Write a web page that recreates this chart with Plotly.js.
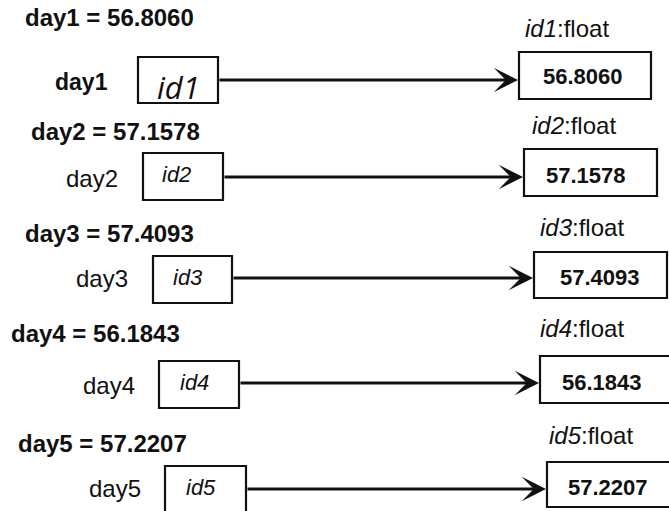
<!DOCTYPE html>
<html>
<head>
<meta charset="utf-8">
<script src="https://cdn.plot.ly/plotly-3.0.1.min.js"></script>
<style>html,body{margin:0;padding:0;background:#fff;}#chart{width:669px;height:511px;}</style>
</head>
<body>
<div id="chart"></div>
<script>
// ---- data ----
var days = ['day1', 'day2', 'day3', 'day4', 'day5'];
var values = [56.8060, 57.1578, 57.4093, 56.1843, 57.2207];
var ids = ['id1', 'id2', 'id3', 'id4', 'id5'];
var typeName = 'float';

// ---- layout geometry (pixel space of the diagram) ----
var titleX   = [23, 29, 23, 9, 16];
var titleY   = [17, 131, 233, 333, 443];
var labelX   = [81, 92, 102, 109, 115];
var labelY   = [82, 178, 278, 385, 488];
var lbox     = [[138,218,57,103],[143,223,153,200],[153,232,256,303],[159,239,361,408],[165,246,466,522]];
var idTextX  = [178, 176, 188, 194, 201];
var idTextY  = [87, 174, 277, 382, 487];
var arrowY   = [80, 177, 278, 383, 489];
var rbox     = [[519,651,52,99],[524,657,149,196],[534,667,252,298],[540,672,356,403],[547,678,462,507]];
var valX     = [583, 586, 600, 602, 608];
var valY     = [76, 175, 277, 382, 487];
var floatX   = [523, 530, 538, 538, 547];
var floatY   = [28, 125, 227, 328, 435];

var FONT = 'Liberation Sans, Arial, sans-serif';
var INK = '#111111';
var shapes = [];
var ann = [];

for (var i = 0; i < days.length; i++) {
  var vtxt = values[i].toFixed(4);
  // row title
  ann.push({x: titleX[i], y: titleY[i], xref: 'x', yref: 'y', xanchor: 'left', yanchor: 'middle',
    text: '<b>' + days[i] + ' = ' + vtxt + '</b>', showarrow: false,
    font: {family: FONT, size: 24, color: INK}});
  // left label
  ann.push({x: labelX[i], y: labelY[i], xref: 'x', yref: 'y', xanchor: 'center', yanchor: 'middle',
    text: i === 0 ? '<b>' + days[i] + '</b>' : days[i], showarrow: false,
    font: {family: FONT, size: i === 0 ? 23 : 24, color: INK}});
  // left box
  var b = lbox[i];
  shapes.push({type: 'rect', xref: 'x', yref: 'y', x0: b[0], x1: b[1], y0: b[2], y1: b[3],
    line: {color: INK, width: 2.2}, fillcolor: 'rgba(0,0,0,0)'});
  ann.push({x: idTextX[i], y: idTextY[i], xref: 'x', yref: 'y', xanchor: 'center', yanchor: 'middle',
    text: '<i>' + ids[i] + '</i>', showarrow: false,
    font: i === 0 ? {family: 'Open Sans, sans-serif', size: 31, color: INK} : {family: FONT, size: 22, color: INK}});
  // arrow
  var r = rbox[i];
  ann.push({x: r[0], y: arrowY[i], ax: b[1], ay: arrowY[i], xref: 'x', yref: 'y', axref: 'x', ayref: 'y',
    text: '', showarrow: true, arrowhead: 3, arrowsize: 1.35, arrowwidth: 3, arrowcolor: INK, standoff: 1});
  // right box
  shapes.push({type: 'rect', xref: 'x', yref: 'y', x0: r[0], x1: r[1], y0: r[2], y1: r[3],
    line: {color: INK, width: 2.2}, fillcolor: 'rgba(0,0,0,0)'});
  ann.push({x: valX[i], y: valY[i], xref: 'x', yref: 'y', xanchor: 'center', yanchor: 'middle',
    text: '<b>' + vtxt + '</b>', showarrow: false,
    font: {family: FONT, size: 22, color: INK}});
  // type label
  ann.push({x: floatX[i], y: floatY[i], xref: 'x', yref: 'y', xanchor: 'left', yanchor: 'middle',
    text: '<i>' + ids[i] + '</i>:' + typeName, showarrow: false,
    font: {family: FONT, size: 24, color: INK}});
}

var layout = {
  width: 669, height: 511,
  margin: {l: 0, r: 0, t: 0, b: 0, pad: 0},
  paper_bgcolor: '#ffffff', plot_bgcolor: '#ffffff',
  showlegend: false,
  xaxis: {range: [0, 669], visible: false, fixedrange: true},
  yaxis: {range: [511, 0], visible: false, fixedrange: true},
  shapes: shapes,
  annotations: ann
};

Plotly.newPlot('chart', [{x: [], y: [], type: 'scatter', mode: 'markers', hoverinfo: 'skip'}], layout,
  {displayModeBar: false, staticPlot: true});
</script>
</body>
</html>
